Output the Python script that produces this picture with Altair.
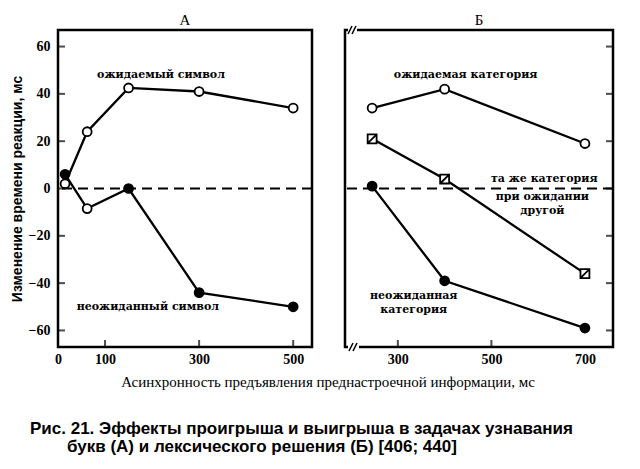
import altair as alt
import pandas as pd

# ---------- data ----------
# Panel А (letters)
a_x = [15, 62, 150, 300, 500]
a_expected_y = [2, 24, 42.5, 41, 34]
a_expected_marker = ["open", "open", "open", "open", "open"]
a_unexpected_y = [6, -8.5, 0, -44, -50]
a_unexpected_marker = ["filled", "open", "filled", "filled", "filled"]

# Panel Б (lexical decision)
b_x = [245, 400, 700]
b_expected_y = [34, 42, 19]
b_same_other_y = [21, 4, -36]
b_unexpected_y = [1, -39, -59]

y_ticks = [-60, -40, -20, 0, 20, 40, 60]
a_x_ticks = [0, 100, 300, 500]
b_x_ticks = [300, 500, 700]

panel_titles = ["А", "Б"]

a_labels = ["ожидаемый символ", "неожиданный символ"]
a_label_x = [219, 191]
a_label_y = [48, -50]

b_labels = ["ожидаемая категория", "та же категория", "при ожидании", "другой",
            "неожиданная", "категория"]
b_label_x = [445, 613, 609, 609, 334, 334]
b_label_y = [48, 4, -3.5, -9.5, -45.5, -51.5]

y_title = "Изменение времени реакции, мс"
x_title = "Асинхронность предъявления преднастроечной информации, мс"
caption_lines = ["Рис. 21. Эффекты проигрыша и выигрыша в задачах узнавания",
                 "букв (А) и лексического решения (Б) [406; 440]"]

# ---------- tables ----------
a_df = pd.concat([
    pd.DataFrame({"series": "exp", "x": a_x, "y": a_expected_y, "marker": a_expected_marker}),
    pd.DataFrame({"series": "unexp", "x": a_x, "y": a_unexpected_y, "marker": a_unexpected_marker}),
])
b_df = pd.concat([
    pd.DataFrame({"series": "exp", "x": b_x, "y": b_expected_y, "marker": "open"}),
    pd.DataFrame({"series": "same", "x": b_x, "y": b_same_other_y, "marker": "square"}),
    pd.DataFrame({"series": "unexp", "x": b_x, "y": b_unexpected_y, "marker": "filled"}),
])
a_lab = pd.DataFrame({"t": a_labels, "x": a_label_x, "y": a_label_y})
b_lab = pd.DataFrame({"t": b_labels, "x": b_label_x, "y": b_label_y})
yt = pd.DataFrame({"y": y_ticks})
axt = pd.DataFrame({"x": [100, 300, 500]})
bxt = pd.DataFrame({"x": [300, 500]})
cap = pd.DataFrame({"t": caption_lines, "i": [0, 1]})

W_A, W_B, H = 254, 268, 317
yscale = alt.Scale(domain=[-67, 67], nice=False, zero=False)
ax_scale = alt.Scale(domain=[0, 540], nice=False, zero=False)
bx_scale = alt.Scale(domain=[187, 760], nice=False, zero=False)

SERIF = "Liberation Serif"
ANN = "DejaVu Serif"

fill_scale = alt.Scale(domain=["open", "filled", "square"], range=["white", "black", "white"])
sq_path = "M-1,-1L1,-1L1,1L-1,1Z M-1,1L1,-1"
shape_scale = alt.Scale(domain=["open", "filled", "square"], range=["circle", "circle", sq_path])

a_xaxis = alt.Axis(values=a_x_ticks, title=None, labelFlush=False, labelPadding=5)
b_xaxis = alt.Axis(values=b_x_ticks, title=None, labelFlush=False, labelPadding=5)
a_yaxis = alt.Axis(values=y_ticks, title=y_title, labelPadding=8, minExtent=30, maxExtent=30,
                   titlePadding=4, titleFont="Liberation Sans", titleFontSize=14,
                   titleFontWeight="bold")
b_yaxis = None

tick_kw = dict(color="black", thickness=2, size=7)


def panel_layers(df, xs, xaxis, yaxis, W, title):
    X = lambda: alt.X("x:Q", scale=xs, axis=xaxis)
    Y = lambda: alt.Y("y:Q", scale=yscale, axis=yaxis)
    base = alt.Chart(df)
    line = base.mark_line(color="black", strokeWidth=2.3).encode(
        x=X(), y=Y(), detail="series:N", order="x:Q")
    pts = base.mark_point(filled=True, size=80, stroke="black", strokeWidth=1.8, opacity=1).encode(
        x=X(), y=Y(),
        fill=alt.Fill("marker:N", scale=fill_scale, legend=None),
        shape=alt.Shape("marker:N", scale=shape_scale, legend=None),
    )
    zero = alt.Chart(pd.DataFrame({"y": [0]})).mark_rule(
        color="black", strokeWidth=2, strokeDash=[10, 6]).encode(y=Y())
    ytk = alt.Chart(yt).mark_tick(orient="horizontal", **tick_kw).encode(
        y=Y(), x=alt.value(W - 3.5 if yaxis is None else 3.5))
    ttl = alt.Chart(pd.DataFrame({"t": [title]})).mark_text(
        font=SERIF, fontSize=15, align="center", baseline="alphabetic").encode(
        x=alt.value(W / 2), y=alt.value(-5), text="t:N")
    return [line, pts, zero, ytk, ttl], X, Y


# ---------- panel А ----------
a_layers, AX, AY = panel_layers(a_df, ax_scale, a_xaxis, a_yaxis, W_A, panel_titles[0])
a_xtk = alt.Chart(axt).mark_tick(orient="vertical", **tick_kw).encode(x=AX(), y=alt.value(H - 3.5))
a_txt = alt.Chart(a_lab).mark_text(font=ANN, fontSize=11, fontWeight="bold").encode(
    x=AX(), y=AY(), text="t:N")
x_title_mark = alt.Chart(pd.DataFrame({"t": [x_title]})).mark_text(
    font=SERIF, fontSize=15, align="center", baseline="middle").encode(
    x=alt.value(270), y=alt.value(H + 35), text="t:N")
cap1 = alt.Chart(cap).transform_filter("datum.i == 0").mark_text(
    font="Liberation Sans", fontSize=17, fontWeight="bold", align="left", baseline="middle").encode(
    x=alt.value(-28), y=alt.value(H + 82), text="t:N")
cap2 = alt.Chart(cap).transform_filter("datum.i == 1").mark_text(
    font="Liberation Sans", fontSize=17, fontWeight="bold", align="left", baseline="middle").encode(
    x=alt.value(9), y=alt.value(H + 100), text="t:N")

panel_a = alt.layer(*a_layers, a_xtk, a_txt, x_title_mark, cap1, cap2).properties(
    width=W_A, height=H)

# ---------- panel Б ----------
b_layers, BX, BY = panel_layers(b_df, bx_scale, b_xaxis, b_yaxis, W_B, panel_titles[1])
b_xtk = alt.Chart(bxt).mark_tick(orient="vertical", **tick_kw).encode(x=BX(), y=alt.value(H - 3.5))
b_txt = alt.Chart(b_lab).mark_text(font=ANN, fontSize=11, fontWeight="bold").encode(
    x=BX(), y=BY(), text="t:N")

one = pd.DataFrame({"k": [0]})
gap_top = alt.Chart(one).mark_rule(color="white", strokeWidth=4).encode(
    x=alt.value(3), x2=alt.value(12), y=alt.value(0), y2=alt.value(0))
gap_bot = alt.Chart(one).mark_rule(color="white", strokeWidth=4).encode(
    x=alt.value(3), x2=alt.value(14), y=alt.value(H), y2=alt.value(H))
brk = []
for (x0, y0) in [(3, 0), (7, 0), (4, H), (8, H)]:
    brk.append(alt.Chart(one).mark_rule(color="black", strokeWidth=1.6).encode(
        x=alt.value(x0), y=alt.value(y0 + 4), x2=alt.value(x0 + 4), y2=alt.value(y0 - 4)))

panel_b = alt.layer(*b_layers, b_xtk, b_txt, gap_top, gap_bot, *brk).properties(
    width=W_B, height=H)

chart = alt.hconcat(panel_a, panel_b, spacing=33, bounds="flush").properties(
    padding={"left": 0, "top": 3, "right": 5, "bottom": 5},
    background="white",
).configure_view(
    stroke="black", strokeWidth=2.5
).configure_axis(
    domain=False, grid=False, ticks=False, tickSize=0,
    labelFont=SERIF, labelFontSize=14, labelFontWeight="bold", labelColor="black",
    titleColor="black",
)

chart.save("out.html", embed_options={"renderer": "svg", "actions": False})
